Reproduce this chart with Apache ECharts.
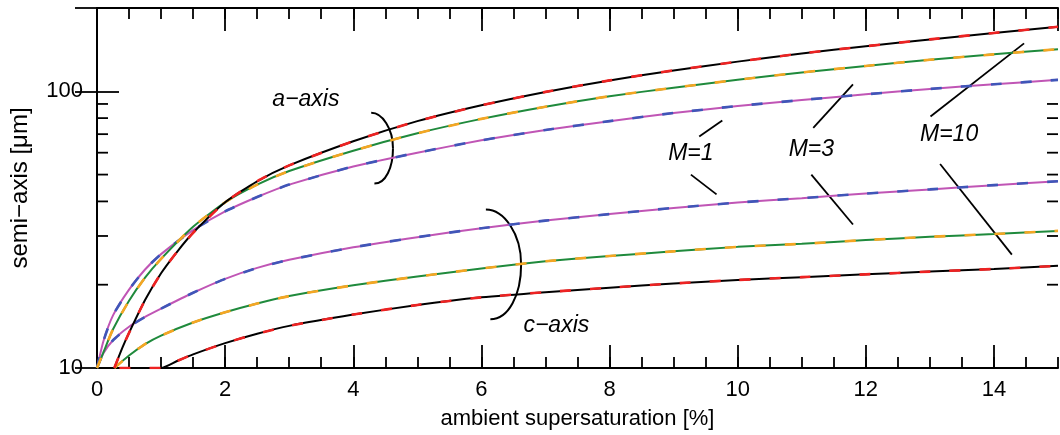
<!DOCTYPE html>
<html>
<head>
<meta charset="utf-8">
<script src="https://cdn.jsdelivr.net/npm/echarts@6/dist/echarts.min.js"></script>
<style>
    html, body { margin: 0; padding: 0; background: #fff; }
    #chart { width: 1060px; height: 435px; }
</style>
</head>
<body>
<div id="chart"></div>
<script>
// semi-axis [um] vs ambient supersaturation [%]
var aM1 = [[0, 10], [0.1, 12.5], [0.25, 15.5], [0.5, 19.2], [0.75, 22.7], [1, 25.8], [1.5, 31.5], [2, 36.8], [2.5, 41.5], [3, 46], [4, 53.5], [5, 60], [6, 66.5], [7, 72.5], [8, 78], [9, 83.5], [10, 88.5], [11, 93], [12, 97.5], [13, 102], [14, 106], [15, 110]];
var aM3 = [[0, 10], [0.1, 11.4], [0.25, 13.8], [0.5, 17.5], [0.75, 21.2], [1, 24.8], [1.5, 32.4], [2, 39.7], [2.5, 46], [3, 51.5], [4, 61], [5, 70.5], [6, 79.5], [7, 88], [8, 96], [9, 103], [10, 110], [11, 117], [12, 123.5], [13, 130], [14, 136], [15, 142]];
var aM10 = [[0.27, 10], [0.4, 11.9], [0.5, 13.4], [0.75, 17.6], [1, 22], [1.25, 26.3], [1.5, 30.8], [2, 39.7], [2.5, 47.3], [3, 54], [4, 66], [5, 78], [6, 89], [7, 99.5], [8, 109.5], [9, 119], [10, 128], [11, 137], [12, 145.5], [13, 154], [14, 162.5], [15, 171]];
var cM1 = [[0, 10], [0.1, 11.3], [0.25, 12.6], [0.5, 14.1], [0.75, 15.3], [1, 16.4], [1.5, 18.7], [2, 21], [2.5, 23], [3, 24.6], [4, 27.3], [5, 29.7], [6, 32], [7, 34.1], [8, 36], [9, 37.9], [10, 39.6], [11, 41.1], [12, 42.7], [13, 44.2], [14, 45.8], [15, 47.3]];
var cM3 = [[0.27, 10], [0.5, 11.1], [0.75, 12.2], [1, 13.1], [1.5, 14.6], [2, 15.9], [2.5, 17.1], [3, 18.2], [4, 19.9], [5, 21.4], [6, 22.9], [7, 24.3], [8, 25.4], [9, 26.4], [10, 27.4], [11, 28.1], [12, 29], [13, 29.8], [14, 30.5], [15, 31.3]];
var cM10 = [[0.35, 10], [1.0, 10], [1.25, 10.6], [1.5, 11.2], [2, 12.3], [2.5, 13.3], [3, 14.2], [4, 15.6], [5, 16.9], [6, 18], [7, 18.8], [8, 19.5], [9, 20.2], [10, 20.8], [11, 21.3], [12, 21.8], [13, 22.3], [14, 22.8], [15, 23.4]];

var xMin = 0, xMax = 15;
var yMin = 10, yMax = 200;
var yMinorTicks = [20, 30, 40, 50, 60, 70, 80, 90];

// annotations, in data coordinates
var annotText = ['a\u2212axis', 'c\u2212axis', 'M=1', 'M=3', 'M=10'];
var annotPos = [[3.26, 93.2], [7.17, 14.2], [9.27, 59.6], [11.15, 61.5], [13.3, 69.7]];
var leaderLines = [
    [9.40, 68.7, 9.76, 78.5], [9.27, 50.0, 9.67, 42.4],
    [11.18, 73.7, 11.80, 106], [11.15, 50.0, 11.80, 33.0],
    [13.01, 81.1, 14.47, 149], [13.16, 54.6, 14.28, 25.7]
];
// top, bottom, right-most point of each bracket
var brackets = [
    [4.28, 83.6, 4.33, 46.4, 4.62, 62.3],
    [6.07, 37.4, 6.14, 15.0, 6.62, 23.4]
];

var FONT = '"Liberation Sans", Arial, Helvetica, sans-serif';

function curve(data, color, dashed) {
    return {
        type: 'line',
        data: data,
        showSymbol: false,
        silent: true,
        smooth: 0.2,
        lineStyle: {
            color: color,
            width: dashed ? 2.6 : 2,
            type: dashed ? [11, 19] : 'solid'
        }
    };
}

function xAx(pos, interval, len, showLine, showLabel) {
    return {
        type: 'value', position: pos, min: xMin, max: xMax, interval: interval,
        axisLine: { show: showLine, lineStyle: { color: '#000', width: 2 } },
        axisTick: { inside: true, length: len, lineStyle: { color: '#000', width: 1.8 } },
        axisLabel: { show: showLabel, color: '#000', fontSize: 22, fontFamily: FONT, margin: 11, showMaxLabel: false },
        splitLine: { show: false },
        name: showLabel ? 'ambient supersaturation [%]' : '',
        nameLocation: 'middle', nameGap: 40,
        nameTextStyle: { color: '#000', fontSize: 22, fontFamily: FONT }
    };
}

function yAx(pos, showLabel) {
    return {
        type: 'log', logBase: 10, position: pos, min: yMin, max: yMax,
        axisLine: { show: true, lineStyle: { color: '#000', width: 2 } },
        axisTick: { inside: true, length: 22, lineStyle: { color: '#000', width: 1.8 } },
        axisLabel: { show: showLabel, color: '#000', fontSize: 22, fontFamily: FONT, margin: 14, showMaxLabel: false },
        splitLine: { show: false },
        name: showLabel ? 'semi\u2212axis [\u03bcm]' : '',
        nameLocation: 'middle', nameGap: 65,
        nameTextStyle: { color: '#000', fontSize: 24, fontFamily: FONT }
    };
}

var chart = echarts.init(document.getElementById('chart'));

var option = {
    animation: false,
    backgroundColor: '#fff',
    grid: { left: 95, right: 2, top: 8, bottom: 66 },
    xAxis: [
        xAx('bottom', 2, 23, true, true),
        xAx('bottom', 0.5, 11, false, false),
        xAx('top', 2, 23, true, false),
        xAx('top', 0.5, 11, false, false)
    ],
    yAxis: [yAx('left', true), yAx('right', false)],
    series: [
        curve(aM1, '#c055b5', false), curve(aM1, '#3f56b8', true),
        curve(cM1, '#c055b5', false), curve(cM1, '#3f56b8', true),
        curve(aM3, '#1f8a3c', false), curve(aM3, '#f5a623', true),
        curve(cM3, '#1f8a3c', false), curve(cM3, '#f5a623', true),
        curve(aM10, '#000000', false), curve(aM10, '#ee2222', true),
        curve(cM10, '#000000', false), curve(cM10, '#ee2222', true),
        {
            // minor ticks of the log axis (left and right)
            type: 'custom',
            silent: true,
            data: yMinorTicks.map(function (v) { return [xMin, v]; }),
            renderItem: function (params, api) {
                var l = api.coord([xMin, api.value(1)]);
                var r = api.coord([xMax, api.value(1)]);
                var st = { stroke: '#000', lineWidth: 1.8 };
                return {
                    type: 'group',
                    children: [
                        { type: 'line', shape: { x1: l[0], y1: l[1], x2: l[0] + 11, y2: l[1] }, style: st },
                        { type: 'line', shape: { x1: r[0], y1: r[1], x2: r[0] - 11, y2: r[1] }, style: st }
                    ]
                };
            }
        },
        {
            type: 'custom',
            silent: true,
            data: leaderLines,
            renderItem: function (params, api) {
                var p1 = api.coord([api.value(0), api.value(1)]);
                var p2 = api.coord([api.value(2), api.value(3)]);
                return {
                    type: 'line',
                    shape: { x1: p1[0], y1: p1[1], x2: p2[0], y2: p2[1] },
                    style: { stroke: '#000', lineWidth: 1.8 }
                };
            }
        },
        {
            type: 'custom',
            silent: true,
            data: brackets,
            renderItem: function (params, api) {
                var t = api.coord([api.value(0), api.value(1)]);
                var b = api.coord([api.value(2), api.value(3)]);
                var r = api.coord([api.value(4), api.value(5)]);
                var cx = (t[0] + b[0]) / 2, cy = (t[1] + b[1]) / 2;
                var rx = r[0] - cx, ry = (b[1] - t[1]) / 2, k = 0.5523;
                var st = { stroke: '#000', lineWidth: 2, fill: null };
                return {
                    type: 'group',
                    children: [
                        { type: 'bezierCurve', shape: { x1: t[0], y1: t[1], cpx1: t[0] + rx * k, cpy1: t[1], cpx2: cx + rx, cpy2: cy - ry * k, x2: cx + rx, y2: cy }, style: st },
                        { type: 'bezierCurve', shape: { x1: cx + rx, y1: cy, cpx1: cx + rx, cpy1: cy + ry * k, cpx2: b[0] + rx * k, cpy2: b[1], x2: b[0], y2: b[1] }, style: st }
                    ]
                };
            }
        },
        {
            type: 'custom',
            silent: true,
            data: annotPos,
            renderItem: function (params, api) {
                var p = api.coord([api.value(0), api.value(1)]);
                return {
                    type: 'text',
                    style: {
                        text: annotText[params.dataIndex],
                        x: p[0], y: p[1],
                        fill: '#000',
                        font: 'italic 23px ' + FONT,
                        align: 'center', verticalAlign: 'middle',
                        textAlign: 'center', textVerticalAlign: 'middle'
                    }
                };
            }
        }
    ]
};

chart.setOption(option);
</script>
</body>
</html>
